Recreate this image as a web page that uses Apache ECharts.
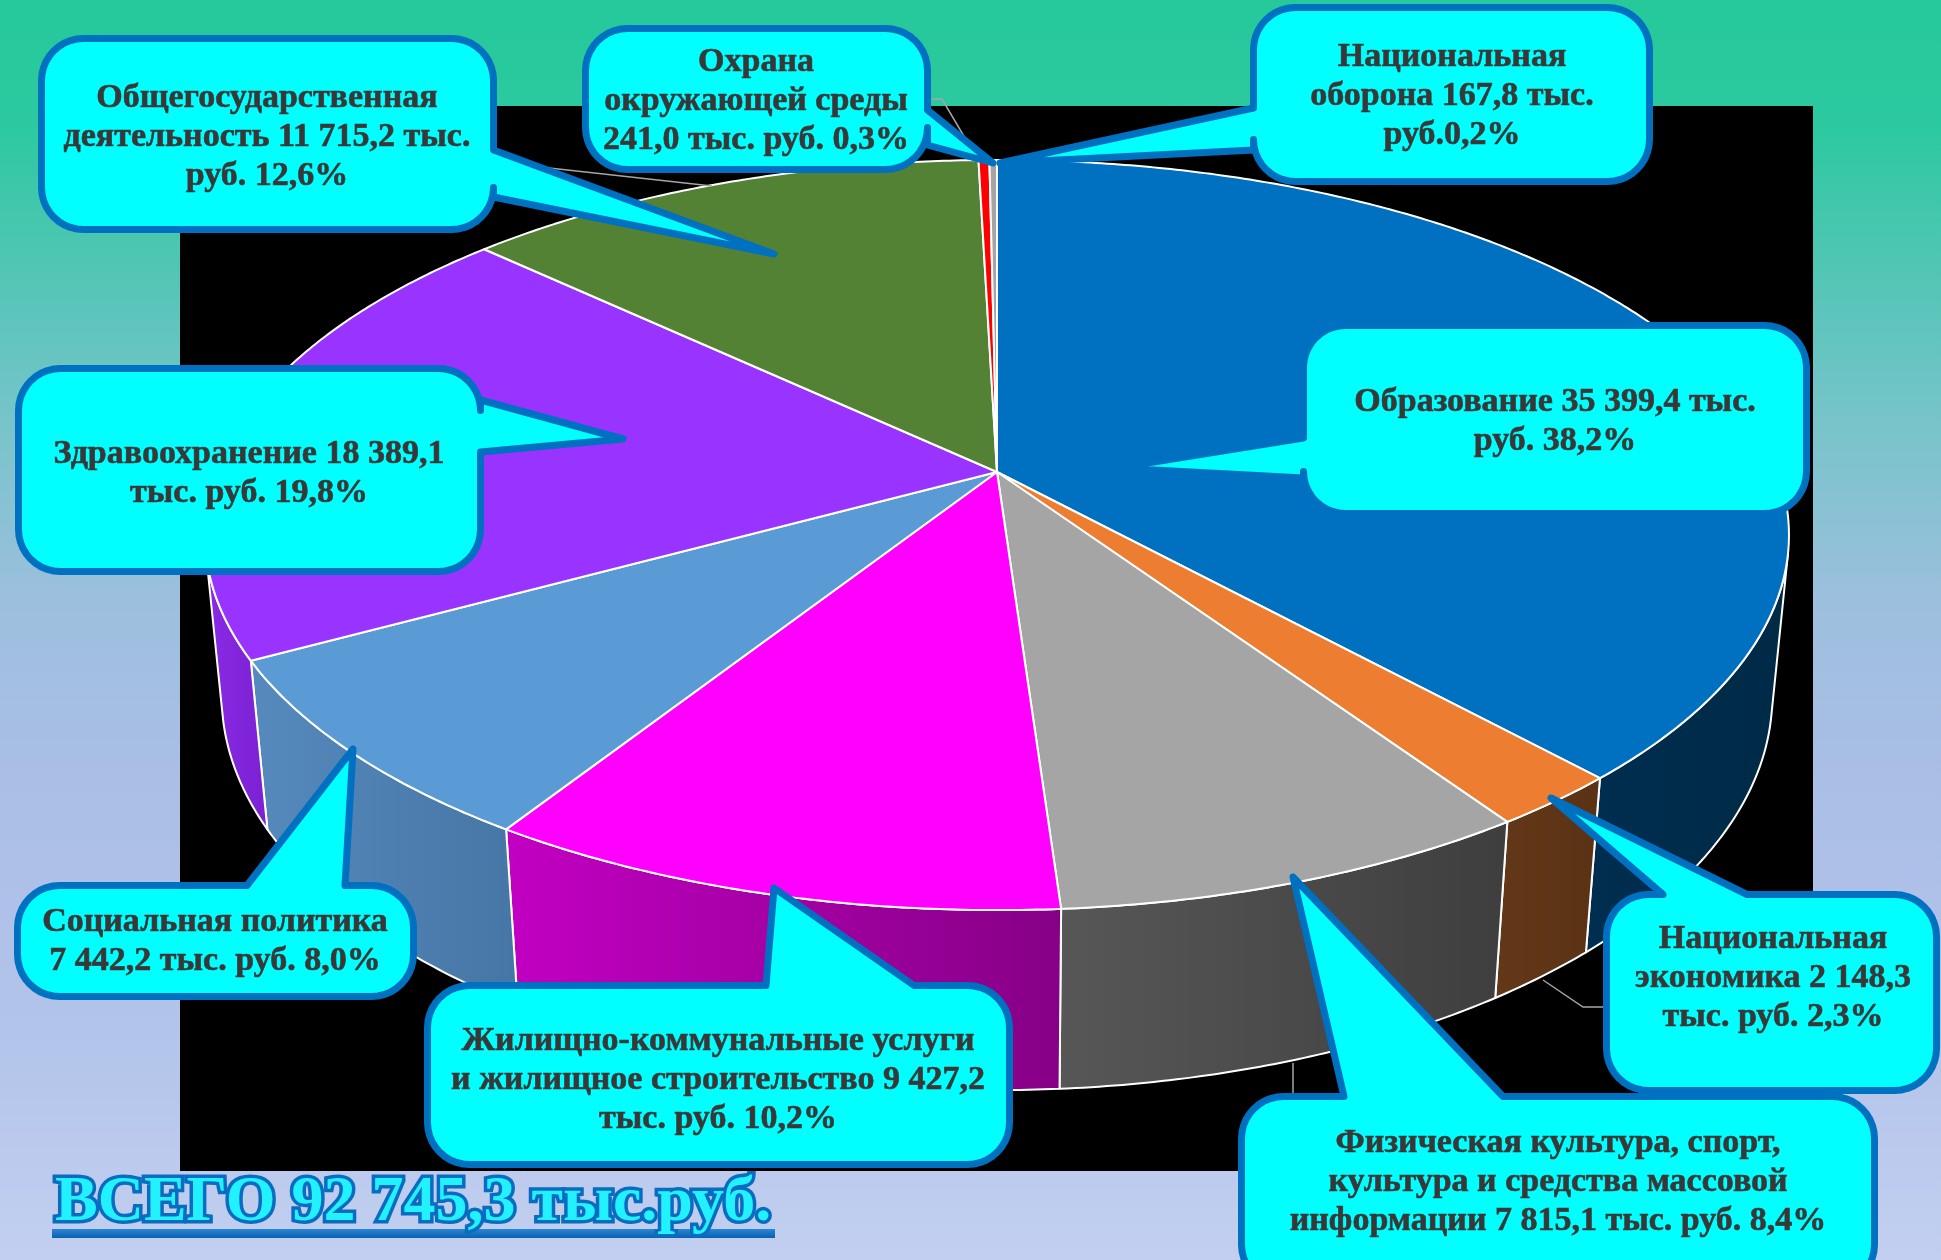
<!DOCTYPE html>
<html>
<head>
<meta charset="utf-8">
<title>Структура расходов бюджета</title>
<script src="https://cdn.jsdelivr.net/npm/echarts@6/dist/echarts.min.js"></script>
<style>
  html, body { margin: 0; padding: 0; }
  #chart { width: 1941px; height: 1260px; }
</style>
</head>
<body>
<div id="chart"></div>
<script>
// разделы расходов по часовой стрелке от 12 часов
const names = ['Образование', 'Национальная экономика', 'Физическая культура, спорт, культура и СМИ',
  'ЖКХ', 'Социальная политика', 'Здравоохранение', 'Общегосударственная деятельность',
  'Охрана окружающей среды', 'Национальная оборона'];
const values = [35399.4, 2148.3, 7815.1, 9427.2, 7442.2, 18389.1, 11715.2, 241.0, 167.8];
const labels = [
  'Образование 35 399,4 тыс.\nруб. 38,2%',
  'Национальная\nэкономика 2 148,3\nтыс. руб. 2,3%',
  'Физическая культура, спорт,\nкультура и средства массовой\nинформации 7 815,1 тыс. руб. 8,4%',
  'Жилищно-коммунальные услуги\nи жилищное строительство 9 427,2\nтыс. руб. 10,2%',
  'Социальная политика\n7 442,2 тыс. руб. 8,0%',
  'Здравоохранение 18 389,1\nтыс. руб. 19,8%',
  'Общегосударственная\nдеятельность 11 715,2 тыс.\nруб. 12,6%',
  'Охрана\nокружающей среды\n241,0 тыс. руб. 0,3%',
  'Национальная\nоборона 167,8 тыс.\nруб.0,2%'
];
const totalText = 'ВСЕГО 92 745,3 тыс.руб.';

// цвета: верх долей и боковые стенки (градиент слева направо)
const topColors = ['#0070c0', '#ed7d31', '#a5a5a5', '#ff00ff', '#5b9bd5', '#9933ff', '#548235', '#ff0000', '#a5a5a5'];
const sideColors = [
  ['#002e50', '#002a46'], ['#633818', '#5a3214'], ['#575757', '#3e3e3e'],
  ['#c200c2', '#860086'], ['#5689bd', '#4676a5'], ['#8a2be6', '#7a20d2'],
  ['#3e6127', '#3e6127'], ['#bb0000', '#bb0000'], ['#777777', '#777777']
];

// выноски: прямоугольник, сторона с хвостом, хвост, центр текста
const callouts = [
  { x: 1303.5, y: 325.5, w: 503, h: 188, side: 'left', a1: 438, a2: 478, tip: [1116, 468], tx: 1555, ty: 422 },
  { x: 1606.5, y: 894.5, w: 330, h: 196, side: 'top', a1: 1663, a2: 1747, tip: [1551, 798], tx: 1773, ty: 978 },
  { x: 1241.5, y: 1096.5, w: 633, h: 190, side: 'top', a1: 1344, a2: 1503, tip: [1293, 877], tx: 1558, ty: 1182 },
  { x: 427.5, y: 985.5, w: 582, h: 179, side: 'top', a1: 766, a2: 914, tip: [774, 888], tx: 718, ty: 1080 },
  { x: 17.5, y: 885.5, w: 396, h: 111, side: 'top', a1: 247, a2: 345, tip: [353, 749], tx: 215, ty: 942 },
  { x: 18.5, y: 368.5, w: 462, h: 203, side: 'right', a1: 400, a2: 452, tip: [623, 439], tx: 249, ty: 474 },
  { x: 41.5, y: 38.5, w: 452, h: 191, side: 'right', a1: 150, a2: 197, tip: [774, 254], tx: 267, ty: 137 },
  { x: 585.5, y: 28.5, w: 342, h: 141, side: 'right', a1: 110, a2: 145, tip: [993, 163], tx: 756, ty: 101 },
  { x: 1253.5, y: 7.5, w: 396, h: 174, side: 'left', a1: 108, a2: 150, tip: [1000, 163], tx: 1452, ty: 96 }
];

// тонкие линии-выноски
const leaders = [
  [[495, 162], [712, 186]],
  [[932, 99], [942, 99], [978, 160]],
  [[1543, 980], [1583, 1007], [1603, 1007]],
  [[1293, 1063], [1293, 1095]]
];

// геометрия диска (перспектива)
const CX = 997, CY = 472;
const FOCAL = 4108, DIST = 5.262, TILT = 27.83, THICK = 0.2356;
const SIN_T = Math.sin(TILT * Math.PI / 180), COS_T = Math.cos(TILT * Math.PI / 180);
const VIS_FROM = Math.acos(-1 / (COS_T * DIST)) * 180 / Math.PI;
const VIS_TO = 360 - VIS_FROM;

const total = values.reduce((a, b) => a + b, 0);
const starts = [];
const sweeps = [];
let acc = 0;
values.forEach(v => {
  starts.push(acc / total * 360);
  sweeps.push(v / total * 360);
  acc += v;
});

function project(deg, depth) {
  const a = deg * Math.PI / 180;
  const u = Math.sin(a), w = Math.cos(a);
  const y = -w * SIN_T + depth * COS_T;
  const z = DIST + w * COS_T + depth * SIN_T;
  return [CX + FOCAL * u / z, CY + FOCAL * y / z];
}

function rim(a0, a1, depth) {
  const pts = [];
  const n = Math.max(2, Math.ceil((a1 - a0) / 0.5));
  for (let k = 0; k <= n; k++) pts.push(project(a0 + (a1 - a0) * k / n, depth));
  return pts;
}

function arcPts(cx, cy, r, a0, a1) {
  const pts = [];
  for (let k = 0; k <= 10; k++) {
    const a = (a0 + (a1 - a0) * k / 10) * Math.PI / 180;
    pts.push([cx + r * Math.cos(a), cy + r * Math.sin(a)]);
  }
  return pts;
}

function bubble(b) {
  const r = 42, x = b.x, y = b.y, w = b.w, h = b.h;
  let p = arcPts(x + r, y + r, r, 180, 270);
  if (b.side === 'top') p.push([b.a1, y], b.tip, [b.a2, y]);
  p = p.concat(arcPts(x + w - r, y + r, r, 270, 360));
  if (b.side === 'right') p.push([x + w, b.a1], b.tip, [x + w, b.a2]);
  p = p.concat(arcPts(x + w - r, y + h - r, r, 0, 90));
  if (b.side === 'bottom') p.push([b.a2, y + h], b.tip, [b.a1, y + h]);
  p = p.concat(arcPts(x + r, y + h - r, r, 90, 180));
  if (b.side === 'left') p.push([x, b.a2], b.tip, [x, b.a1]);
  return p;
}

const chart = echarts.init(document.getElementById('chart'));
const font = '"Liberation Serif", "Times New Roman", serif';
const graphics = [
  {
    type: 'rect', z: -20, silent: true,
    shape: { x: 0, y: 0, width: 1941, height: 1260 },
    style: {
      fill: new echarts.graphic.LinearGradient(0, 0, 0, 1, [
        { offset: 0, color: '#25c99a' },
        { offset: 0.1, color: '#2cc9a0' },
        { offset: 0.24, color: '#5ac5ba' },
        { offset: 0.33, color: '#76c4c9' },
        { offset: 0.48, color: '#9dbfde' },
        { offset: 0.62, color: '#abbee6' },
        { offset: 0.82, color: '#b3c4ea' },
        { offset: 1, color: '#c2cff0' }
      ])
    }
  },
  {
    type: 'rect', z: -10, silent: true,
    shape: { x: 180, y: 106, width: 1633, height: 1065 },
    style: { fill: '#000' }
  }
];

leaders.forEach(pts => {
  graphics.push({
    type: 'polyline', z: 5, silent: true,
    shape: { points: pts },
    style: { stroke: '#a6a6a6', lineWidth: 1.5, fill: null }
  });
});

callouts.forEach((b, i) => {
  graphics.push({
    type: 'polygon', z: 10, silent: true,
    shape: { points: bubble(b) },
    style: { fill: '#00ffff', stroke: '#0070c0', lineWidth: 7, lineJoin: 'round' }
  });
  graphics.push({
    type: 'text', z: 11, silent: true,
    x: b.tx, y: b.ty,
    style: {
      text: labels[i], font: 'bold 34px ' + font, fill: '#383838',
      stroke: '#383838', lineWidth: 0.6,
      align: 'center', verticalAlign: 'middle', lineHeight: 39
    }
  });
});

graphics.push({
  type: 'rect', z: 10, silent: true,
  shape: { x: 52, y: 1229, width: 723, height: 9 },
  style: {
    fill: new echarts.graphic.LinearGradient(0, 0, 0, 1, [
      { offset: 0, color: '#2a86d6' }, { offset: 1, color: '#0860b0' }
    ])
  }
});
graphics.push({
  type: 'text', z: 11, silent: true,
  x: 55, y: 1203,
  style: {
    text: totalText, font: 'bold 64px ' + font, fill: '#22f2ff',
    stroke: '#0a6cc0', lineWidth: 7, align: 'left', verticalAlign: 'middle'
  }
});

const option = {
  animation: false,
  graphic: graphics,
  series: [
    {
      // боковые стенки
      type: 'custom',
      coordinateSystem: 'none',
      silent: true,
      z: 2,
      data: values,
      renderItem: function (params) {
        const i = params.dataIndex;
        const a0 = Math.max(starts[i], VIS_FROM);
        const a1 = Math.min(starts[i] + sweeps[i], VIS_TO);
        if (a1 <= a0) return { type: 'group', children: [] };
        const pts = rim(a0, a1, 0).concat(rim(a0, a1, THICK).reverse());
        return {
          type: 'polygon',
          shape: { points: pts },
          style: {
            fill: new echarts.graphic.LinearGradient(0, 0, 1, 0, [
              { offset: 0, color: sideColors[i][0] }, { offset: 1, color: sideColors[i][1] }
            ]),
            stroke: '#ffffff', lineWidth: 2, lineJoin: 'round'
          }
        };
      }
    },
    {
      // верх диска
      type: 'custom',
      coordinateSystem: 'none',
      silent: true,
      z: 3,
      data: values,
      renderItem: function (params) {
        const i = params.dataIndex;
        const pts = [[CX, CY]].concat(rim(starts[i], starts[i] + sweeps[i], 0));
        return {
          type: 'polygon',
          shape: { points: pts },
          style: { fill: topColors[i], stroke: '#ffffff', lineWidth: 2, lineJoin: 'round' }
        };
      }
    }
  ]
};

chart.setOption(option);
</script>
</body>
</html>
